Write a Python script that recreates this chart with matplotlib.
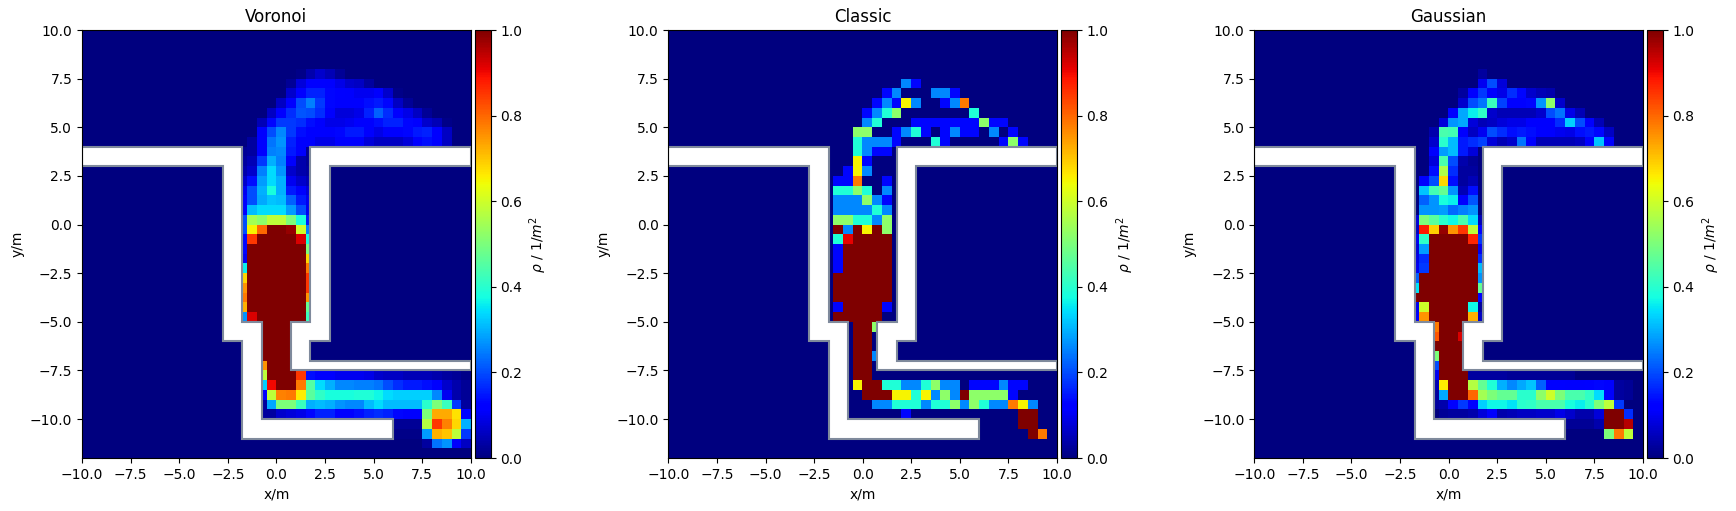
import matplotlib
matplotlib.use('Agg')
import matplotlib.pyplot as plt
from matplotlib.patches import Polygon
import numpy as np

# density cells: (row from top, first column, values), everything else is 0
voronoi_cells = [
    (4, 22, [.01, .04, .07, .05, .02]),
    (5, 21, [.02, .08, .12, .12, .11, .09, .07, .06, .03]),
    (6, 21, [.07, .12, .16, .16, .13, .12, .11, .10, .10, .11, .07, .01]),
    (7, 20, [.06, .12, .2, .25, .18, .13, .11, .11, .11, .14, .15, .13, .06, .02]),
    (8, 19, [.06, .12, .17, .21, .2, .17, .11, .08, .08, .09, .16, .22, .17, .12, .09, .06, .02]),
    (9, 18, [.05, .13, .18, .18, .17, .14, .11, .09, .09, .10, .11, .11, .14, .16, .16, .13, .11, .07, .05, .01]),
    (10, 18, [.11, .2, .26, .18, .14, .12, .12, .11, .13, .15, .15, .11, .09, .11, .11, .13, .15, .16, .12, .06]),
    (11, 17, [.03, .12, .24, .27, .16, .11, .11, .09, .09, .11, .12, .11, .08, .06, .06, .06, .08, .12, .14, .12, .06]),
    (12, 16, [.02, .03, .12, .25, .26, .15, .11, .02]),
    (13, 16, [.03, .05, .18, .3, .25, .11, .04, .02]),
    (14, 16, [.04, .07, .25, .34, .27, .07, .04, .03]),
    (15, 16, [.07, .14, .28, .34, .3, .1, .07, .05]),
    (16, 16, [.1, .2, .3, .38, .3, .15, .11, .08]),
    (17, 16, [.11, .2, .29, .32, .31, .22, .15, .1]),
    (18, 16, [.12, .31, .34, .34, .34, .28, .2, .1]),
    (19, 16, [.2, .55, .52, .58, .58, .5, .38, .15]),
    (20, 16, [.2, .65, .8, 1, 1, .98, .6, .25]),
    (21, 16, [.13, .85, 1, 1, 1, 1, .92, .38]),
    (22, 16, [.13, 1, 1, 1, 1, 1, 1, .5]),
    (23, 16, [.1, 1, 1, 1, 1, 1, 1, .68]),
    (24, 16, [.36, 1, 1, 1, 1, 1, 1, .78]),
    (25, 16, [.68, 1, 1, 1, 1, 1, 1, .85]),
    (26, 16, [.75, 1, 1, 1, 1, 1, 1, .85]),
    (27, 16, [.78, 1, 1, 1, 1, 1, 1, .75]),
    (28, 16, [.72, 1, 1, 1, 1, 1, 1, .47]),
    (29, 16, [.27, .92, 1, 1, 1, 1, 1, .42]),
    (30, 18, [1, 1, 1, 1]),
    (31, 18, [1, 1, 1, 1]),
    (32, 18, [1, 1, 1, 1]),
    (33, 18, [1, 1, 1, 1]),
    (34, 18, [.75, 1, 1, 1]),
    (35, 18, [.58, 1, 1, 1, .85, .14, .11, .11, .1, .1, .1, .09, .07, .06, .06, .05, .05, .05, .04, .03, .02, .01]),
    (36, 18, [.33, .9, 1, 1, .78, .45, .34, .3, .26, .26, .25, .25, .24, .2, .17, .15, .15, .14, .11, .07, .04, .02]),
    (37, 18, [.11, .58, .77, .78, .66, .46, .41, .38, .38, .38, .39, .39, .37, .34, .33, .33, .33, .33, .26, .1, .04, .02]),
    (38, 18, [.03, .29, .5, .5, .42, .3, .31, .3, .27, .26, .26, .31, .34, .31, .31, .31, .31, .4, .5, .42, .18, .03]),
    (39, 18, [.03, .03, .07, .08, .09, .13, .16, .16, .12, .12, .14, .16, .17, .16, .13, .11, .11, .5, .73, .73, .67, .11]),
    (40, 32, [.02, .02, .02, .57, .85, .77, .68, .3]),
    (41, 32, [.01, .01, .01, .28, .72, .7, .58, .18]),
    (42, 35, [.03, .24, .27, .11, .06]),
]

# classic counts people per cell so it only takes a few levels
B, A, T, G, Y, O, R, M = .13, .26, .39, .52, .65, .78, .91, 1
classic_cells = [
    (5, 24, [A, B]),
    (6, 22, [B, A, 0, 0, 0, A, A, B]),
    (7, 21, [B, A, B, Y, A, 0, 0, B, A, O]),
    (8, 20, [B, A, T, G, 0, 0, 0, 0, 0, 0, 0, T]),
    (9, 20, [A, T, 0, 0, 0, B, B, B, B, B, B, B, G, B, B]),
    (10, 19, [G, G, 0, 0, B, A, T, B, 0, B, A, B, B, 0, A, 0, B]),
    (11, 19, [T, A, A, A, B, 0, 0, 0, T, B, 0, 0, 0, 0, 0, B, G, B]),
    (12, 19, [T, A, B, B]),
    (13, 19, [Y, B]),
    (14, 18, [B, Y, A]),
    (15, 17, [B, B, O, 0, 0, B]),
    (16, 17, [T, T, G, T, 0, A]),
    (17, 17, [A, A, A, G, A, B]),
    (18, 17, [A, A, A, A, T, A]),
    (19, 17, [G, G, T, T, A, G]),
    (20, 17, [M, A, M, Y, M, G]),
    (21, 17, [T, R, M, M, M, M]),
    (22, 17, [B, M, M, M, M, M]),
    (23, 17, [B, M, M, M, M, M]),
    (24, 17, [B, M, M, M, M, M]),
    (25, 17, [M, M, M, M, M, M]),
    (26, 17, [M, M, M, M, M, M]),
    (27, 17, [M, M, M, M, M, M]),
    (28, 17, [B, M, M, M, M, B]),
    (29, 17, [M, M, M, M, M]),
    (30, 19, [M, M, G]),
    (31, 19, [M, M]),
    (32, 19, [M, M]),
    (33, 19, [M, M, A]),
    (34, 19, [M, M]),
    (35, 19, [M, M]),
    (36, 19, [Y, M, M, T, T, A, A, T, G, A, A, 0, B, B, B, A, B, B]),
    (37, 20, [M, M, M, Y, Y, T, Y, A, G, A, M, G, G, G, G, B]),
    (38, 21, [A, A, T, T, T, A, T, T, G, A, G, T, A, A, O, Y, A]),
    (39, 24, [B]),
    (39, 36, [M, M]),
    (40, 36, [M, M]),
    (41, 37, [M, O]),
]

gaussian_cells = [
    (4, 23, [.03]),
    (5, 23, [.1, .2, .08]),
    (6, 21, [.03, .11, .18, .11, .09, .17, .13, .07, .05, .04]),
    (7, 21, [.07, .2, .24, .42, .19, .12, .12, .13, .27, .52, .07]),
    (8, 20, [.11, .29, .36, .41, .07, .05, .05, .05, .05, .07, .2, .24, .09, .05]),
    (9, 19, [.08, .27, .29, .08, .05, .06, .08, .09, .09, .11, .11, .11, .17, .33, .2, .11, .05]),
    (10, 18, [.04, .44, .43, .11, .06, .1, .2, .17, .14, .15, .14, .12, .11, .1, .09, .14, .15, .13, .06]),
    (11, 18, [.07, .4, .31, .15, .17, .19, .08, .05, .07, .24, .12, .05, .05, .05, .05, .06, .11, .32, .12]),
    (12, 18, [.11, .28, .31, .15, .08]),
    (13, 18, [.08, .44, .2, .04, .02]),
    (14, 18, [.14, .56, .17, .03, .03]),
    (15, 17, [.11, .2, .68, .14, .03, .05]),
    (16, 17, [.32, .43, .47, .27, .05, .14]),
    (17, 17, [.22, .27, .38, .36, .12, .21]),
    (18, 17, [.27, .27, .28, .23, .25, .27]),
    (19, 16, [.08, .5, .46, .4, .37, .44, .34, .05]),
    (20, 16, [.06, .88, .69, .98, .75, .85, .58, .12]),
    (21, 16, [.1, .41, 1, 1, 1, 1, .87, .18]),
    (22, 16, [.08, .28, 1, 1, 1, 1, 1, .1]),
    (23, 16, [.09, .17, 1, 1, 1, 1, 1, .17]),
    (24, 16, [.1, .18, 1, 1, 1, 1, 1, .31]),
    (25, 16, [.22, 1, 1, 1, 1, 1, 1, .27]),
    (26, 16, [.35, 1, 1, 1, 1, 1, 1, .47]),
    (27, 16, [1, 1, 1, 1, 1, 1, 1, .11]),
    (28, 16, [.1, .6, 1, 1, 1, 1, .37, .03]),
    (29, 16, [.11, .75, 1, 1, 1, 1, .72, .06]),
    (30, 18, [.78, 1, 1, 1]),
    (31, 18, [.82, 1, 1, .92]),
    (32, 18, [1, 1, 1, 1]),
    (33, 18, [.5, 1, 1, 1]),
    (34, 18, [.2, 1, 1, 1]),
    (35, 18, [.1, 1, 1, 1, .03, .03, .03, .03, .02, .02, .02, .02, .02, .02, .02]),
    (36, 18, [.05, .66, 1, 1, .57, .47, .39, .3, .26, .29, .32, .22, .12, .12, .11, .11, .12, .13, .12, .03, .02]),
    (37, 18, [.03, .29, 1, 1, .8, .55, .5, .47, .47, .4, .4, .52, .6, .5, .44, .44, .41, .34, .11, .03, .02]),
    (38, 18, [.03, .04, .11, .18, .12, .33, .37, .37, .35, .4, .41, .44, .44, .44, .38, .36, .4, .5, .58, .18]),
    (39, 19, [.02, .03, .03, .04, .08, .11, .04, .05, .06, .06, .07, .07, .09, .07, .04, .04, .08, 1, 1, .17]),
    (40, 32, [.02, .02, .02, .04, 1, 1, .95]),
    (41, 36, [.5, .78, .58]),
]

titles = ['Voronoi', 'Classic', 'Gaussian']
ticks = [-10, -7.5, -5, -2.5, 0, 2.5, 5, 7.5, 10]

left_wall = [(-10, 4), (-1.75, 4), (-1.75, -5), (-0.75, -5), (-0.75, -10), (6, -10), (6, -11),
             (-1.75, -11), (-1.75, -6), (-2.75, -6), (-2.75, 3), (-10, 3)]
right_wall = [(1.75, 4), (10, 4), (10, 3), (2.75, 3), (2.75, -6), (1.75, -6), (1.75, -7), (10, -7),
              (10, -7.5), (0.75, -7.5), (0.75, -5), (1.75, -5)]


def make_grid(cells):
    grid = np.zeros((44, 40))
    for row, col, values in cells:
        grid[row, col:col + len(values)] = values
    return grid


W, H = 1736, 511
fig = plt.figure(figsize=(W / 100, H / 100), dpi=100)

lefts = [82, 668.3, 1254.3]
for cells, title, left in zip([voronoi_cells, classic_cells, gaussian_cells], titles, lefts):
    ax = fig.add_axes([left / W, 1 - 458 / H, 388.8 / W, 428 / H])
    im = ax.imshow(make_grid(cells), cmap='jet', vmin=0, vmax=1, extent=[-10, 10, -12, 10],
                   aspect='auto', interpolation='nearest')
    for wall in [left_wall, right_wall]:
        ax.add_patch(Polygon(wall, closed=True, fc='white', ec='#7f8a9c', lw=1.5))
    ax.set_xlim(-10, 10)
    ax.set_ylim(-12, 10)
    ax.set_xticks(ticks)
    ax.set_yticks(ticks)
    ax.set_xlabel('x/m')
    ax.set_ylabel('y/m')
    ax.set_title(title)
    cax = fig.add_axes([(left + 393) / W, 1 - 458 / H, 15.5 / W, 428 / H])
    cbar = fig.colorbar(im, cax=cax)
    cbar.set_label(r'$\rho$ / 1/$m^2$')

fig.savefig('out.png', dpi=100)
